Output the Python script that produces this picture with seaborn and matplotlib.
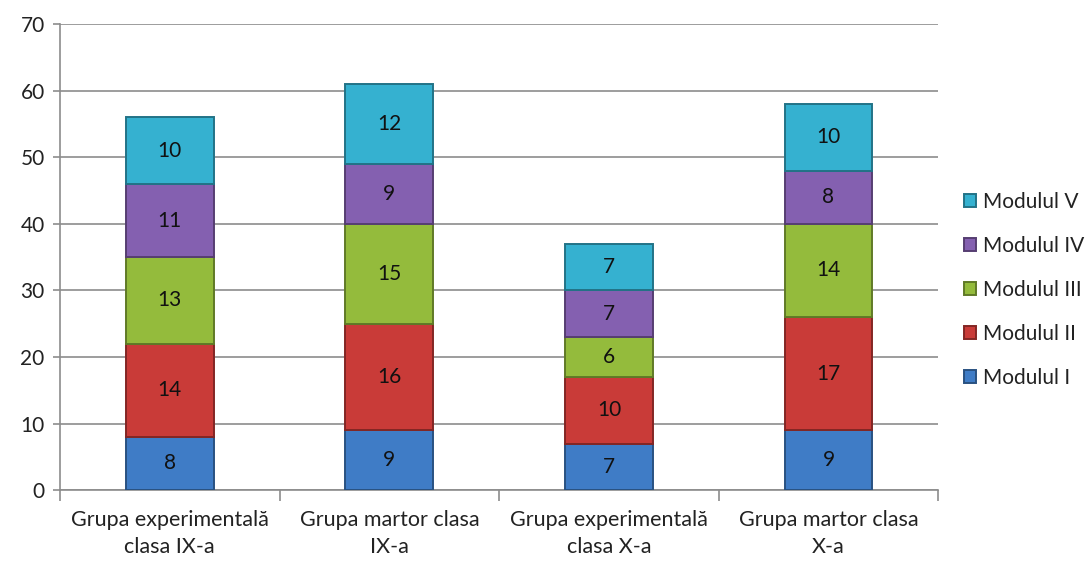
import pandas as pd
import seaborn as sns
import matplotlib.pyplot as plt
import matplotlib.colors as mcolors

# data
grupe = ["Grupa experimentală\nclasa IX-a", "Grupa martor clasa\nIX-a",
         "Grupa experimentală\nclasa X-a", "Grupa martor clasa\nX-a"]
module = ["Modulul I", "Modulul II", "Modulul III", "Modulul IV", "Modulul V"]
modulul_1 = [8, 9, 7, 9]
modulul_2 = [14, 16, 10, 17]
modulul_3 = [13, 15, 6, 14]
modulul_4 = [11, 9, 7, 8]
modulul_5 = [10, 12, 7, 10]
culori = ["#3f7cc6", "#c93b38", "#94bb3c", "#8460b0", "#35b1d0"]

valori = [modulul_1, modulul_2, modulul_3, modulul_4, modulul_5]
rows = []
for m, vals in zip(module, valori):
    for g, v in zip(grupe, vals):
        rows.append({"grupa": g, "modul": m, "valoare": v})
df = pd.DataFrame(rows)

sns.set_style("white")
plt.rcParams['font.family'] = ['Lato', 'DejaVu Sans']

fig = plt.figure(figsize=(10.91, 5.64), dpi=100)
ax = fig.add_axes([0.055, 0.131, 0.805, 0.826])

baza = [0, 0, 0, 0]
for m, c in zip(module, culori):
    sub = df[df["modul"] == m]
    edge = [x * 0.65 for x in mcolors.to_rgb(c)]
    sns.barplot(data=sub, x="grupa", y="valoare", order=grupe, color=c,
                saturation=1, width=0.4, bottom=baza, edgecolor=edge,
                linewidth=1.4, label=m, ax=ax, zorder=3)
    ax.bar_label(ax.containers[-1], label_type="center", fmt="%d",
                 fontsize=15, color="#111111")
    baza = [b + v for b, v in zip(baza, sub["valoare"])]

ax.set_xlim(-0.5, 3.5)
ax.set_ylim(0, 70)
ax.set_yticks(range(0, 71, 10))
ax.set_xlabel("")
ax.set_ylabel("")
ax.grid(axis="y", color="#8c8c8c", linewidth=1.2, zorder=0)
ax.set_axisbelow(True)
for s in ["top", "right"]:
    ax.spines[s].set_visible(False)
for s in ["left", "bottom"]:
    ax.spines[s].set_color("#8c8c8c")
    ax.spines[s].set_linewidth(1.2)

ax.set_xticks([-0.5, 0.5, 1.5, 2.5, 3.5], minor=True)
ax.tick_params(axis="x", which="minor", length=8, width=1.2, color="#8c8c8c", bottom=True)
ax.tick_params(axis="x", which="major", length=0, labelsize=15.5, labelcolor="#222222", pad=14)
ax.tick_params(axis="y", length=5, width=1.2, color="#8c8c8c", labelsize=15,
               labelcolor="#222222", left=True, pad=6)
for t in ax.get_xticklabels():
    t.set_linespacing(1.45)

handles, labels = ax.get_legend_handles_labels()
leg = ax.legend(handles[::-1], labels[::-1], loc="center left",
                bbox_to_anchor=(0.866, 0.486), bbox_transform=fig.transFigure,
                frameon=False, fontsize=15, labelspacing=1.15,
                handlelength=0.6, handleheight=0.6, handletextpad=0.35)
for t in leg.get_texts():
    t.set_color("#222222")

fig.savefig("out.png", dpi=100)
